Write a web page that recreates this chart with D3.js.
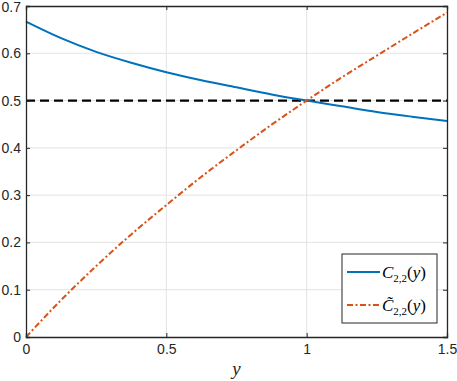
<!DOCTYPE html>
<html>
<head>
<meta charset="utf-8">
<script src="https://cdn.jsdelivr.net/npm/d3@7"></script>
<style>
  body { margin: 0; background: #fff; }
  svg { display: block; font-family: "Liberation Sans", Arial, sans-serif; }
</style>
</head>
<body>
<div id="chart"></div>
<script>
// values
const xVals     = [0, 0.125, 0.25, 0.375, 0.5, 0.625, 0.75, 0.875, 1, 1.125, 1.25, 1.375, 1.5];
const blueVals  = [0.667, 0.632, 0.603, 0.580, 0.560, 0.543, 0.528, 0.513, 0.500, 0.488, 0.476, 0.466, 0.457];
const orangeVals= [0, 0.078, 0.150, 0.217, 0.279, 0.339, 0.395, 0.449, 0.500, 0.549, 0.595, 0.641, 0.686];
const refLine   = 0.5;
const xTicks = [0, 0.5, 1, 1.5];
const yTicks = [0, 0.1, 0.2, 0.3, 0.4, 0.5, 0.6, 0.7];

const width = 457, height = 381;
const margin = {left: 26, right: 10, top: 6, bottom: 44};

const svg = d3.select('#chart').append('svg')
    .attr('width', width)
    .attr('height', height);

const x = d3.scaleLinear().domain([0, 1.5]).range([margin.left, width - margin.right]);
const y = d3.scaleLinear().domain([0, 0.7]).range([height - margin.bottom, margin.top]);

const axisColor = '#262626';

// grid
svg.append('g').selectAll('line')
    .data(xTicks.slice(1, -1))
    .enter().append('line')
    .attr('x1', d => x(d)).attr('x2', d => x(d))
    .attr('y1', y(0)).attr('y2', y(0.7))
    .attr('stroke', '#e3e3e3').attr('stroke-width', 1);
svg.append('g').selectAll('line')
    .data(yTicks.slice(1, -1))
    .enter().append('line')
    .attr('x1', x(0)).attr('x2', x(1.5))
    .attr('y1', d => y(d)).attr('y2', d => y(d))
    .attr('stroke', '#e3e3e3').attr('stroke-width', 1);

// lines
const line = (vals) => d3.line()
    .x((d, i) => x(xVals[i]))
    .y(d => y(d))
    .curve(d3.curveMonotoneX)(vals);

svg.append('line')
    .attr('x1', x(0)).attr('x2', x(1.5))
    .attr('y1', y(refLine)).attr('y2', y(refLine))
    .attr('stroke', '#000').attr('stroke-width', 2.2)
    .attr('stroke-dasharray', '9,5');

svg.append('path')
    .attr('d', line(blueVals))
    .attr('fill', 'none')
    .attr('stroke', '#0072BD')
    .attr('stroke-width', 2);

svg.append('path')
    .attr('d', line(orangeVals))
    .attr('fill', 'none')
    .attr('stroke', '#D95319')
    .attr('stroke-width', 2)
    .attr('stroke-dasharray', '6,2.5,2,2.5');

// axes (ticks inward, box on)
const xAxis = svg.append('g')
    .attr('transform', `translate(0,${y(0)})`)
    .call(d3.axisBottom(x).tickValues(xTicks).tickSize(-4).tickPadding(7)
        .tickFormat(d3.format('')));
const yAxis = svg.append('g')
    .attr('transform', `translate(${x(0)},0)`)
    .call(d3.axisLeft(y).tickValues(yTicks).tickSize(-4).tickPadding(5)
        .tickFormat(d => d === 0 ? '0' : d3.format('.1f')(d)));
const xTop = svg.append('g')
    .attr('transform', `translate(0,${y(0.7)})`)
    .call(d3.axisTop(x).tickValues(xTicks).tickSize(-4).tickFormat(''));
const yRight = svg.append('g')
    .attr('transform', `translate(${x(1.5)},0)`)
    .call(d3.axisRight(y).tickValues(yTicks).tickSize(-4).tickFormat(''));

[xAxis, yAxis, xTop, yRight].forEach(a => {
    a.select('.domain').attr('stroke', axisColor).attr('stroke-width', 1.3);
    a.selectAll('.tick line').attr('stroke', axisColor);
    a.selectAll('.tick text')
        .attr('fill', axisColor)
        .style('font-size', '14px')
        .style('font-family', '"Liberation Sans", Arial, sans-serif');
});
// keep the top label inside the picture
yAxis.selectAll('.tick text').filter(d => d === 0.7).attr('dy', '0.42em');

// x label
svg.append('text')
    .attr('x', x(0.75))
    .attr('y', 375)
    .attr('text-anchor', 'middle')
    .style('font-family', '"Liberation Serif", "DejaVu Serif", serif')
    .style('font-style', 'italic')
    .style('font-size', '19px')
    .attr('fill', axisColor)
    .text('y');

// legend
const legend = svg.append('g');
legend.append('rect')
    .attr('x', 342).attr('y', 254)
    .attr('width', 95).attr('height', 69)
    .attr('fill', '#fff')
    .attr('stroke', axisColor).attr('stroke-width', 1);

const legendItems = [
    {label: 'C', color: '#0072BD', dash: null},
    {label: 'C\u0303', color: '#D95319', dash: '6,2.5,2,2.5'}
];

legendItems.forEach((d, i) => {
    const ly = 272 + i * 33;
    legend.append('line')
        .attr('x1', 347).attr('x2', 380)
        .attr('y1', ly).attr('y2', ly)
        .attr('stroke', d.color).attr('stroke-width', 2)
        .attr('stroke-dasharray', d.dash);
    const t = legend.append('text')
        .attr('x', 382).attr('y', ly + 6)
        .attr('fill', '#000')
        .style('font-family', '"Liberation Serif", "DejaVu Serif", serif')
        .style('font-size', '17px');
    t.append('tspan').style('font-style', 'italic').text(d.label);
    t.append('tspan').attr('dy', 4).style('font-size', '11px').text('2,2');
    t.append('tspan').attr('dy', -4).text('(');
    t.append('tspan').style('font-style', 'italic').text('y');
    t.append('tspan').text(')');
});
</script>
</body>
</html>
